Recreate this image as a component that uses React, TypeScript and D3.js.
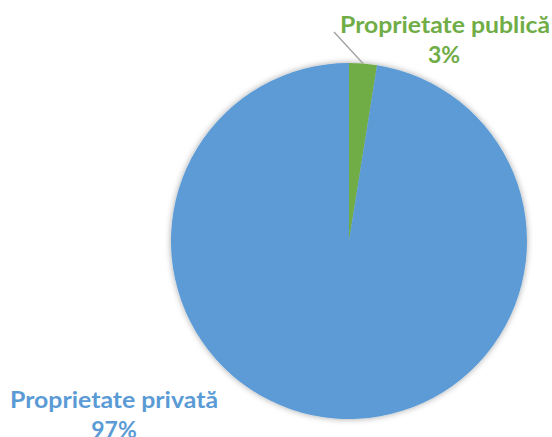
import React from "react";
import * as d3 from "d3";

const categories = ["Proprietate publică", "Proprietate privată"];
const values = [2.52, 97.48];
const colors = ["#70AD47", "#5B9BD5"];

const W = 552;
const H = 437;
const cx = 349;
const cy = 241;
const R = 178;

export default function App() {
  const total = d3.sum(values);
  const pie = d3
    .pie<number>()
    .sort(null)
    .value((d) => d);
  const arcs = pie(values);
  const arc = d3.arc<d3.PieArcDatum<number>>().innerRadius(0).outerRadius(R);

  const pubArc = arcs[0];
  const mid = (pubArc.startAngle + pubArc.endAngle) / 2;
  const lx = cx + R * Math.sin(mid);
  const ly = cy - R * Math.cos(mid);

  const pct = (v: number) => `${Math.round((v / total) * 100)}%`;
  const font = "Lato, 'Open Sans', sans-serif";

  return (
    <svg
      width={W}
      height={H}
      style={{ position: "absolute", left: 0, top: 0, background: "#fff" }}
    >
      <defs>
        <filter id="sh" x="-10%" y="-10%" width="120%" height="120%">
          <feDropShadow dx="0" dy="0" stdDeviation="3" floodColor="#000" floodOpacity="0.35" />
        </filter>
      </defs>
      <g transform={`translate(${cx},${cy})`} filter="url(#sh)">
        {arcs.map((a, i) => (
          <path key={i} d={arc(a) || ""} fill={colors[i]} />
        ))}
      </g>
      <line x1={334} y1={32} x2={lx} y2={ly} stroke="#A6A6A6" strokeWidth={1.5} />
      <g fontFamily={font} fontWeight={700} fontSize={23} textAnchor="middle">
        <text x={445} y={33} fill={colors[0]} textLength={210} lengthAdjust="spacingAndGlyphs">
          {categories[0]}
        </text>
        <text x={444} y={63} fill={colors[0]}>
          {pct(values[0])}
        </text>
        <text x={114} y={408} fill={colors[1]} textLength={208} lengthAdjust="spacingAndGlyphs">
          {categories[1]}
        </text>
        <text x={114} y={438} fill={colors[1]}>
          {pct(values[1])}
        </text>
      </g>
    </svg>
  );
}
